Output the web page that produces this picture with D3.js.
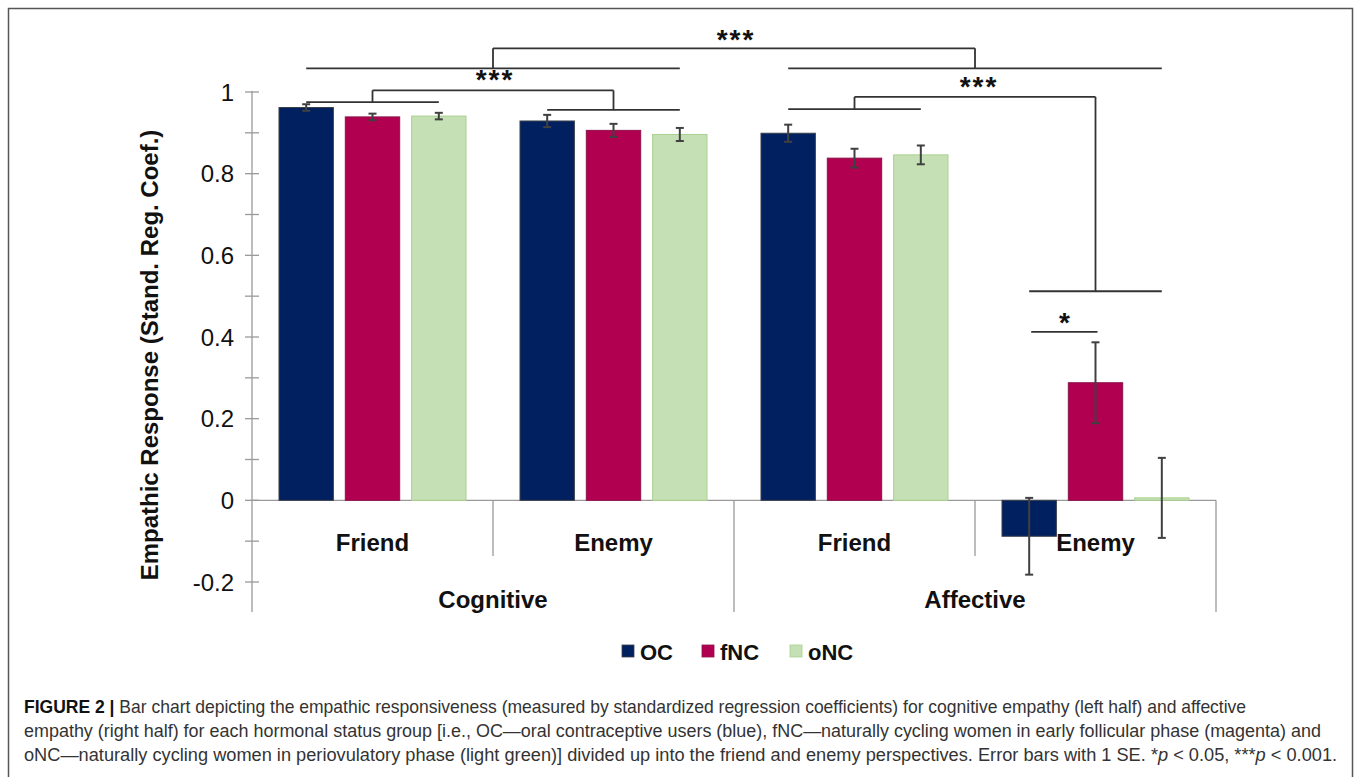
<!DOCTYPE html>
<html>
<head>
<meta charset="utf-8">
<script src="https://cdn.jsdelivr.net/npm/d3@7"></script>
<style>
  html, body { margin: 0; padding: 0; background: #fff; }
  svg { display: block; }
</style>
</head>
<body>
<svg id="chart" width="1357" height="777"></svg>
<script>
// Empathy types (outer grouping) and perspectives (inner grouping)
const empathyTypes = ["Cognitive", "Affective"];
const perspectives = ["Friend", "Enemy"];
const groups = ["OC", "fNC", "oNC"];
const groupColors = ["#002060", "#b0004f", "#c5e0b4"];
const groupStrokes = ["#3a3f4a", "#8e1048", "#a9d18e"];

// Standardised regression coefficients, one array per hormonal group,
// ordered Cognitive-Friend, Cognitive-Enemy, Affective-Friend, Affective-Enemy
const ocValues  = [0.962, 0.929, 0.899, -0.088];
const fncValues = [0.939, 0.906, 0.838, 0.288];
const oncValues = [0.941, 0.896, 0.846, 0.006];
// Standard errors
const ocSE  = [0.008, 0.015, 0.021, 0.094];
const fncSE = [0.008, 0.016, 0.023, 0.099];
const oncSE = [0.008, 0.016, 0.023, 0.098];

const yTicks = [-0.2, 0, 0.2, 0.4, 0.6, 0.8, 1];
const yTickLabels = ["-0.2", "0", "0.2", "0.4", "0.6", "0.8", "1"];
const yMinorTicks = [-0.1, 0.1, 0.3, 0.5, 0.7, 0.9];

const values = [ocValues, fncValues, oncValues];
const errors = [ocSE, fncSE, oncSE];

const svg = d3.select("#chart");

// outer frame
svg.append("rect")
  .attr("x", 8.5).attr("y", 8.5).attr("width", 1344).attr("height", 800)
  .attr("fill", "none").attr("stroke", "#555").attr("stroke-width", 1.5);

const plotLeft = 252, plotRight = 1216;
const y = d3.scaleLinear().domain([-0.2735, 1.0]).range([612, 92]);

// four clusters: type x perspective
const clusters = [];
empathyTypes.forEach(t => perspectives.forEach(p => clusters.push(t + "|" + p)));
const xCluster = d3.scaleBand().domain(clusters).range([plotLeft, plotRight]);
const xInner = d3.scaleBand().domain(groups)
  .range([27, xCluster.bandwidth() - 27]).paddingInner(0.18);

const barCenter = (ci, gi) => xCluster(clusters[ci]) + xInner(groups[gi]) + xInner.bandwidth() / 2;

// y axis
const axisG = svg.append("g");
axisG.append("line")
  .attr("x1", plotLeft).attr("x2", plotLeft)
  .attr("y1", y(1.0) - 1).attr("y2", 612)
  .attr("stroke", "#9a9a9a").attr("stroke-width", 1.3);
axisG.selectAll(".tick").data(yTicks.concat(yMinorTicks)).enter().append("line")
  .attr("x1", plotLeft - 7).attr("x2", plotLeft + 7)
  .attr("y1", d => y(d)).attr("y2", d => y(d))
  .attr("stroke", "#9a9a9a").attr("stroke-width", 1.3);
axisG.selectAll(".lbl").data(yTicks).enter().append("text")
  .attr("x", 234).attr("y", d => y(d))
  .attr("dy", "0.36em")
  .attr("text-anchor", "end")
  .attr("font-family", "Liberation Sans, Arial, sans-serif")
  .attr("font-size", 24)
  .attr("fill", "#111")
  .text((d, i) => yTickLabels[i]);

svg.append("text")
  .attr("transform", `translate(158, 355) rotate(-90)`)
  .attr("text-anchor", "middle")
  .attr("font-family", "Liberation Sans, Arial, sans-serif")
  .attr("font-weight", "bold")
  .attr("font-size", 24)
  .attr("fill", "#111")
  .text("Empathic Response (Stand. Reg. Coef.)");

// zero line and category separators
svg.append("line")
  .attr("x1", plotLeft).attr("x2", plotRight)
  .attr("y1", y(0)).attr("y2", y(0))
  .attr("stroke", "#9a9a9a").attr("stroke-width", 1.3);
clusters.forEach((c, i) => {
  const xr = xCluster(c) + xCluster.bandwidth();
  const long = (i % 2 === 1);
  svg.append("line")
    .attr("x1", xr).attr("x2", xr)
    .attr("y1", y(0)).attr("y2", long ? 612 : 556)
    .attr("stroke", "#9a9a9a").attr("stroke-width", 1.3);
});

// bars
groups.forEach((g, gi) => {
  svg.append("g").selectAll("rect").data(values[gi]).enter().append("rect")
    .attr("x", (d, ci) => xCluster(clusters[ci]) + xInner(g))
    .attr("width", xInner.bandwidth())
    .attr("y", d => y(Math.max(0, d)))
    .attr("height", d => Math.abs(y(d) - y(0)))
    .attr("fill", groupColors[gi])
    .attr("stroke", groupStrokes[gi])
    .attr("stroke-width", 1);
});

// error bars
groups.forEach((g, gi) => {
  const eg = svg.append("g").attr("stroke", "#404040").attr("stroke-width", 2);
  values[gi].forEach((v, ci) => {
    const cx = barCenter(ci, gi);
    const lo = y(v - errors[gi][ci]), hi = y(v + errors[gi][ci]);
    eg.append("line").attr("x1", cx).attr("x2", cx).attr("y1", lo).attr("y2", hi);
    eg.append("line").attr("x1", cx - 4).attr("x2", cx + 4).attr("y1", lo).attr("y2", lo);
    eg.append("line").attr("x1", cx - 4).attr("x2", cx + 4).attr("y1", hi).attr("y2", hi);
  });
});

// category labels
const labelFont = "Liberation Sans, Arial, sans-serif";
clusters.forEach((c, i) => {
  svg.append("text")
    .attr("x", xCluster(c) + xCluster.bandwidth() / 2)
    .attr("y", 551)
    .attr("text-anchor", "middle")
    .attr("font-family", labelFont).attr("font-weight", "bold")
    .attr("font-size", 24).attr("fill", "#111")
    .text(perspectives[i % 2]);
});
empathyTypes.forEach((t, i) => {
  const x0 = xCluster(clusters[i * 2]);
  const x1 = xCluster(clusters[i * 2 + 1]) + xCluster.bandwidth();
  svg.append("text")
    .attr("x", (x0 + x1) / 2)
    .attr("y", 608)
    .attr("text-anchor", "middle")
    .attr("font-family", labelFont).attr("font-weight", "bold")
    .attr("font-size", 24).attr("fill", "#111")
    .text(t);
});

// significance brackets
const br = svg.append("g").attr("stroke", "#333").attr("stroke-width", 1.8).attr("fill", "none");
function hline(x0, x1, yy) { br.append("line").attr("x1", x0).attr("x2", x1).attr("y1", yy).attr("y2", yy); }
function vline(xx, y0, y1) { br.append("line").attr("x1", xx).attr("x2", xx).attr("y1", y0).attr("y2", y1); }
function stars(txt, xx, yy) {
  svg.append("text").attr("x", xx).attr("y", yy)
    .attr("text-anchor", "middle")
    .attr("font-family", labelFont).attr("font-weight", "bold")
    .attr("font-size", 28).attr("letter-spacing", 2).attr("fill", "#111")
    .text(txt);
}

// Cognitive vs Affective overall
{
  const l0 = barCenter(0, 0), l1 = barCenter(1, 2);
  const r0 = barCenter(2, 0), r1 = barCenter(3, 2);
  const yLow = y(1.058), yTop = y(1.107);
  hline(l0, l1, yLow); hline(r0, r1, yLow);
  const lm = (l0 + l1) / 2, rm = (r0 + r1) / 2;
  vline(lm, yTop, yLow); vline(rm, yTop, yLow);
  hline(lm, rm, yTop);
  stars("***", (lm + rm) / 2 + 2, yTop + 1);
}
// Cognitive: Friend vs Enemy
{
  const l0 = barCenter(0, 0), l1 = barCenter(0, 2);
  const r0 = barCenter(1, 0), r1 = barCenter(1, 2);
  const yl = y(0.975), yr = y(0.956), yTop = y(1.004);
  hline(l0, l1, yl); hline(r0, r1, yr);
  const lm = (l0 + l1) / 2, rm = (r0 + r1) / 2;
  vline(lm, yTop, yl); vline(rm, yTop, yr);
  hline(lm, rm, yTop);
  stars("***", (lm + rm) / 2 + 2, yTop - 1);
}
// Affective: Friend vs Enemy
{
  const l0 = barCenter(2, 0), l1 = barCenter(2, 2);
  const r0 = barCenter(3, 0), r1 = barCenter(3, 2);
  const yl = y(0.958), yr = y(0.512), yTop = y(0.988);
  hline(l0, l1, yl); hline(r0, r1, yr);
  const lm = (l0 + l1) / 2, rm = (r0 + r1) / 2;
  vline(lm, yTop, yl); vline(rm, yTop, yr);
  hline(lm, rm, yTop);
  stars("***", (lm + rm) / 2 + 4, yTop - 1);
}
// Affective Enemy: OC vs fNC
{
  const x0 = barCenter(3, 0), x1 = barCenter(3, 1);
  const yy = y(0.4125);
  hline(x0 + 2, x1 + 2, yy);
  stars("*", (x0 + x1) / 2 + 3, yy);
}

// legend
const legend = svg.append("g");
const legendX = [622, 702, 790];
groups.forEach((g, gi) => {
  legend.append("rect")
    .attr("x", legendX[gi]).attr("y", 645).attr("width", 12).attr("height", 12)
    .attr("fill", groupColors[gi]).attr("stroke", groupStrokes[gi]).attr("stroke-width", 0.8);
  legend.append("text")
    .attr("x", legendX[gi] + 18).attr("y", 660)
    .attr("font-family", labelFont).attr("font-weight", "bold")
    .attr("font-size", 22).attr("fill", "#111")
    .text(g);
});

// caption: each line is set at its natural width, then squeezed horizontally
// to the condensed width of the journal's caption face
const capFont = "Liberation Sans, Arial, sans-serif";
const capLines = [
  [["FIGURE 2 | ", "bold"], ["Bar chart depicting the empathic responsiveness (measured by standardized regression coefficients) for cognitive empathy (left half) and affective", ""]],
  [["empathy (right half) for each hormonal status group [i.e., OC\u2014oral contraceptive users (blue), fNC\u2014naturally cycling women in early follicular phase (magenta) and", ""]],
  [["oNC\u2014naturally cycling women in periovulatory phase (light green)] divided up into the friend and enemy perspectives. Error bars with 1 SE. *", ""], ["p", "italic"], [" < 0.05, ***", ""], ["p", "italic"], [" < 0.001.", ""]]
];
const capWidths = [1223, 1298, 1314];
const capBase = [713, 737, 761];
capLines.forEach((line, i) => {
  const g = svg.append("g");
  const t = g.append("text")
    .attr("x", 0).attr("y", 0)
    .attr("font-family", capFont).attr("font-size", 18.5)
    .attr("fill", "#333");
  line.forEach(([s, style]) => {
    const ts = t.append("tspan").text(s);
    if (style === "bold") ts.attr("font-weight", "bold").attr("fill", "#111");
    if (style === "italic") ts.attr("font-style", "italic");
  });
  const natural = t.node().getComputedTextLength() || capWidths[i];
  const sx = capWidths[i] / natural;
  g.attr("transform", `translate(24, ${capBase[i]}) scale(${sx}, 1)`);
});
</script>
</body>
</html>
